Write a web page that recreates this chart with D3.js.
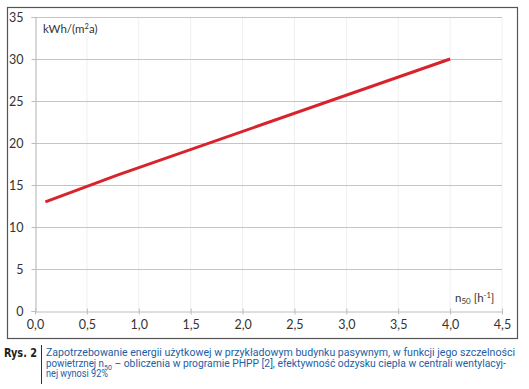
<!DOCTYPE html>
<html>
<head>
<meta charset="utf-8">
<script src="https://cdn.jsdelivr.net/npm/d3@7"></script>
<style>
  body { margin: 0; background: #fff; }
  svg { display: block; }
</style>
</head>
<body>
<script>
// values
var n50 = [0.1, 0.8, 4.0]
var energy = [13, 16.2, 30]
var xTicks = [0, 0.5, 1, 1.5, 2, 2.5, 3, 3.5, 4, 4.5]
var yTicks = [0, 5, 10, 15, 20, 25, 30, 35]

var width = 529, height = 389

var svg = d3.select("body").append("svg")
  .attr("width", width)
  .attr("height", height)

// outer frame
svg.append("rect")
  .attr("x", 7.5).attr("y", 7.5)
  .attr("width", 510).attr("height", 331)
  .attr("fill", "none").attr("stroke", "#555").attr("stroke-width", 1.2)

var x = d3.scaleLinear().domain([0, 4.5]).range([35, 502])
var y = d3.scaleLinear().domain([0, 35]).range([311, 17])

var fmt = function(d) { return d3.format(".1f")(d).replace(".", ",") }

// faint vertical grid
svg.append("g").selectAll("line")
  .data(xTicks.slice(1))
  .enter().append("line")
  .attr("x1", d => x(d)).attr("x2", d => x(d))
  .attr("y1", y(35)).attr("y2", y(0))
  .attr("stroke", "#efefef")

// horizontal grid
svg.append("g").selectAll("line")
  .data(yTicks.slice(1))
  .enter().append("line")
  .attr("x1", x(0)).attr("x2", x(4.5))
  .attr("y1", d => y(d) + 0.5).attr("y2", d => y(d) + 0.5)
  .attr("stroke", "#c4c4c4").attr("stroke-width", 1.2)

// y axis
var yAxis = svg.append("g")
  .attr("transform", "translate(" + (x(0) + 0.5) + ",0)")
  .call(d3.axisLeft(y).tickValues(yTicks).tickSize(4).tickPadding(8))
yAxis.select(".domain").attr("stroke", "#bdbdbd").attr("stroke-width", 1.2)
yAxis.selectAll(".tick line").attr("stroke", "#bdbdbd")
yAxis.selectAll("text")
  .attr("font-family", "Lato, 'Open Sans', sans-serif")
  .attr("font-size", "12.5px").attr("fill", "#333")

// x axis
var xAxis = svg.append("g")
  .attr("transform", "translate(0," + (y(0) + 0.5) + ")")
  .call(d3.axisBottom(x).tickValues(xTicks).tickFormat(fmt).tickSizeInner(-3).tickSizeOuter(0).tickPadding(9))
xAxis.select(".domain").attr("stroke", "#bdbdbd").attr("stroke-width", 1.2)
xAxis.selectAll(".tick line").attr("stroke", "#bdbdbd").attr("y1", 3).attr("y2", -3)
xAxis.selectAll("text")
  .attr("font-family", "Lato, 'Open Sans', sans-serif")
  .attr("font-size", "12.5px").attr("fill", "#333")

// data line
var line = d3.line()
  .x(function(d, i) { return x(n50[i]) })
  .y(function(d) { return y(d) })

svg.append("path")
  .datum(energy)
  .attr("d", line)
  .attr("fill", "none")
  .attr("stroke", "#d8232a")
  .attr("stroke-width", 3)
  .attr("stroke-linecap", "butt")

// axis titles
var yTitle = svg.append("text")
  .attr("x", 43).attr("y", 33)
  .attr("font-family", "Lato, 'Open Sans', sans-serif")
  .attr("font-size", "11.5px").attr("fill", "#333")
yTitle.append("tspan").text("kWh/(m")
yTitle.append("tspan").text("2").attr("font-size", "7.5px").attr("dy", -4)
yTitle.append("tspan").text("a)").attr("dy", 4)

var xTitle = svg.append("text")
  .attr("x", 455).attr("y", 302)
  .attr("font-family", "Lato, 'Open Sans', sans-serif")
  .attr("font-size", "11.5px").attr("fill", "#333")
xTitle.append("tspan").text("n")
xTitle.append("tspan").text("50").attr("font-size", "8px").attr("dy", 2)
xTitle.append("tspan").text(" [h").attr("dy", -2)
xTitle.append("tspan").text("-1").attr("font-size", "7.5px").attr("dy", -4)
xTitle.append("tspan").text("]").attr("dy", 4)

// caption
svg.append("text")
  .attr("x", 4).attr("y", 357)
  .attr("font-family", "'DejaVu Sans Condensed', sans-serif")
  .attr("font-weight", "bold")
  .attr("font-size", "12.5px").attr("fill", "#222")
  .attr("textLength", 33).attr("lengthAdjust", "spacingAndGlyphs")
  .text("Rys. 2")

svg.append("line")
  .attr("x1", 41.5).attr("x2", 41.5)
  .attr("y1", 345).attr("y2", 384)
  .attr("stroke", "#333").attr("stroke-width", 1)

var capFont = "Roboto, 'Open Sans', sans-serif"
var capColor = "#1b5ea6"

svg.append("text")
  .attr("x", 46).attr("y", 356)
  .attr("font-family", capFont).attr("font-size", "11px").attr("fill", capColor)
  .attr("textLength", 469).attr("lengthAdjust", "spacingAndGlyphs")
  .text("Zapotrzebowanie energii użytkowej w przykładowym budynku pasywnym, w funkcji jego szczelności")

var cap2 = svg.append("text")
  .attr("x", 46).attr("y", 366.5)
  .attr("font-family", capFont).attr("font-size", "11px").attr("fill", capColor)
cap2.append("tspan").text("powietrznej n")
  .attr("textLength", 58).attr("lengthAdjust", "spacingAndGlyphs")
cap2.append("tspan").text("50").attr("font-size", "7px").attr("dy", 3.5)
cap2.append("tspan").text(" – obliczenia w programie PHPP [2], efektywność odzysku ciepła w centrali wentylacyj-")
  .attr("dy", -3.5)
  .attr("textLength", 394).attr("lengthAdjust", "spacingAndGlyphs")

svg.append("text")
  .attr("x", 46).attr("y", 377)
  .attr("font-family", capFont).attr("font-size", "11px").attr("fill", capColor)
  .attr("textLength", 62).attr("lengthAdjust", "spacingAndGlyphs")
  .text("nej wynosi 92%")
</script>
</body>
</html>
